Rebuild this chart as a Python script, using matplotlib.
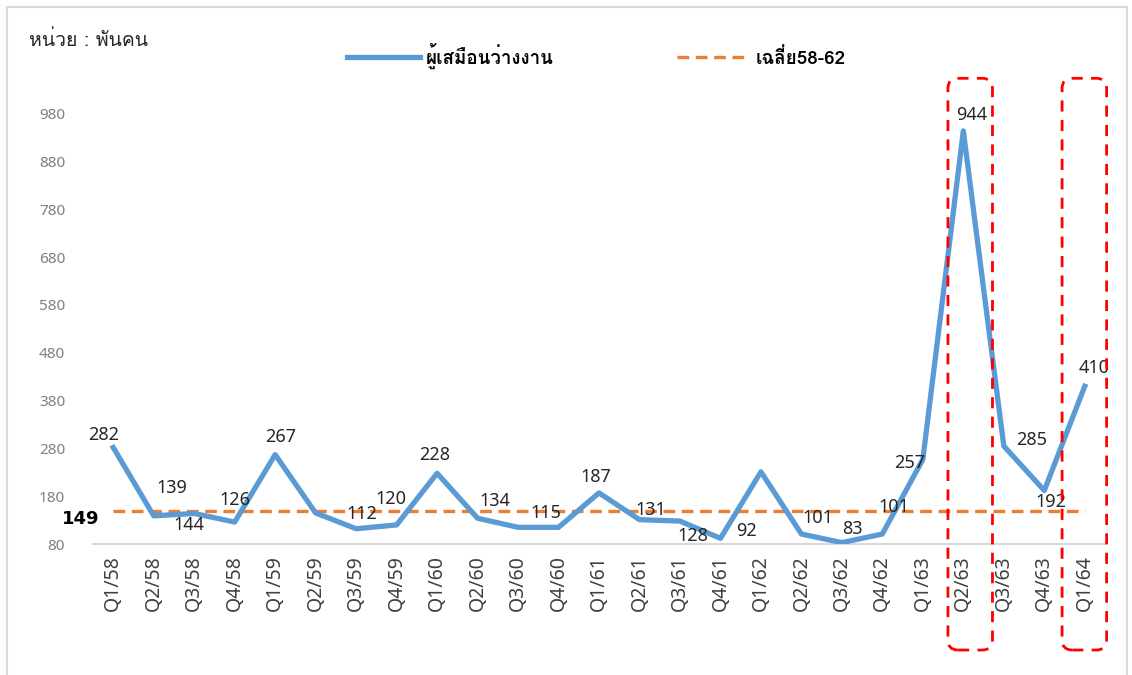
import numpy as np
import matplotlib
matplotlib.use("Agg")
import matplotlib.pyplot as plt
from matplotlib import font_manager, ft2font
from matplotlib.patches import FancyBboxPatch, Rectangle
from matplotlib.transforms import blended_transform_factory

# data
quarters = ['Q1/58', 'Q2/58', 'Q3/58', 'Q4/58', 'Q1/59', 'Q2/59', 'Q3/59', 'Q4/59',
            'Q1/60', 'Q2/60', 'Q3/60', 'Q4/60', 'Q1/61', 'Q2/61', 'Q3/61', 'Q4/61',
            'Q1/62', 'Q2/62', 'Q3/62', 'Q4/62', 'Q1/63', 'Q2/63', 'Q3/63', 'Q4/63', 'Q1/64']
unemployed = [282, 139, 144, 126, 267, 145, 112, 120,
              228, 134, 115, 115, 187, 131, 128, 92,
              231, 101, 83, 101, 257, 944, 285, 192, 410]
avg_58_62 = 149
y_ticks = [80, 180, 280, 380, 480, 580, 680, 780, 880, 980]
highlight = ['Q2/63', 'Q1/64']
box_shift = [0.12, -0.06]

# which points carry a label, and where the label sits (pixels from the point)
label_offsets = {0: (-10, 12), 1: (18, 28), 2: (-5, -12), 3: (0, 22), 4: (5, 18),
                 6: (6, 15), 7: (-6, 26), 8: (-2, 18), 9: (17, 17), 11: (-13, 14),
                 12: (-3, 16), 13: (11, 10), 14: (13, -15), 15: (26, 7),
                 17: (16, 16), 18: (10, 14), 19: (11, 27), 20: (-13, -4),
                 21: (8, 16), 22: (28, 6), 23: (7, -12), 24: (9, 18)}


def thai_font():
    for f in font_manager.fontManager.ttflist:
        try:
            cmap = ft2font.FT2Font(f.fname).get_charmap()
        except Exception:
            continue
        if 0x0E2B in cmap and 0x0E49 in cmap and 0x0E1E in cmap:
            return f.name
    return 'DejaVu Sans'


thai = thai_font()
num_font = ['Noto Sans', 'DejaVu Sans']
plt.rcParams['font.family'] = [thai, 'DejaVu Sans']

fig = plt.figure(figsize=(11.32, 6.75), dpi=100)
ax = fig.add_axes([93 / 1132, 0.194, (1105 - 93) / 1132, 0.673])

x = np.arange(len(quarters))
ax.plot(x, unemployed, color='#5B9BD5', lw=3.8, solid_joinstyle='round',
        label='ผู้เสมือนว่างงาน', zorder=3)
ax.plot([x[0], x[-1]], [avg_58_62, avg_58_62], color='#ED7D31', lw=2.4,
        ls=(0, (3.5, 2)), label='เฉลี่ย58-62', zorder=2)

for i, (dx, dy) in label_offsets.items():
    ax.annotate(str(unemployed[i]), (x[i], unemployed[i]), xytext=(dx, dy),
                textcoords='offset pixels', ha='center', va='center',
                fontsize=13, family=num_font, color='#262626', zorder=4)

ax.annotate(str(avg_58_62), (x[0], avg_58_62), xytext=(-33, -8),
            textcoords='offset pixels', ha='center', va='center',
            fontsize=13, family='DejaVu Sans', fontweight='bold', color='black')

ax.set_xlim(-0.5, len(quarters) - 0.5)
ax.set_ylim(80, 1030)
ax.set_xticks(x)
ax.set_xticklabels(quarters, rotation=90, fontsize=14, family=num_font,
                   color='#404040')
ax.set_yticks(y_ticks)
ax.set_yticklabels([str(v) for v in y_ticks], fontsize=11, family=num_font,
                   color='#7f7f7f')
ax.tick_params(length=0)
ax.tick_params(axis='x', pad=8)
ax.tick_params(axis='y', pad=20)
for s in ['top', 'right', 'left']:
    ax.spines[s].set_visible(False)
ax.spines['bottom'].set_color('#d9d9d9')
ax.spines['bottom'].set_linewidth(1.5)

# red dashed frames around the highlighted quarters
trans = blended_transform_factory(ax.transData, fig.transFigure)
for q, shift in zip(highlight, box_shift):
    i = quarters.index(q)
    box = FancyBboxPatch((i - 0.5 + shift, 0.037), 1.1, 0.847,
                         boxstyle='round,pad=0,rounding_size=0.25',
                         mutation_aspect=0.06, transform=trans,
                         fill=False, ec='#FF0000', lw=2, ls=(0, (4, 3)),
                         clip_on=False, zorder=5)
    fig.add_artist(box)

leg = fig.legend(loc='center', bbox_to_anchor=(0.527, 0.917), ncol=2,
                 frameon=False, handlelength=3.9, columnspacing=6.6,
                 handletextpad=0.3, prop={'family': [thai, 'DejaVu Sans'],
                                          'size': 13.5, 'weight': 'bold'})

fig.text(0.026, 0.94, 'หน่วย : พันคน', fontsize=14, color='#262626',
         ha='left', va='center')

fig.add_artist(Rectangle((0.006, -0.01), 0.99, 1.0, transform=fig.transFigure,
                         fill=False, ec='#d9d9d9', lw=1.5))

fig.savefig('out.png', dpi=100)
